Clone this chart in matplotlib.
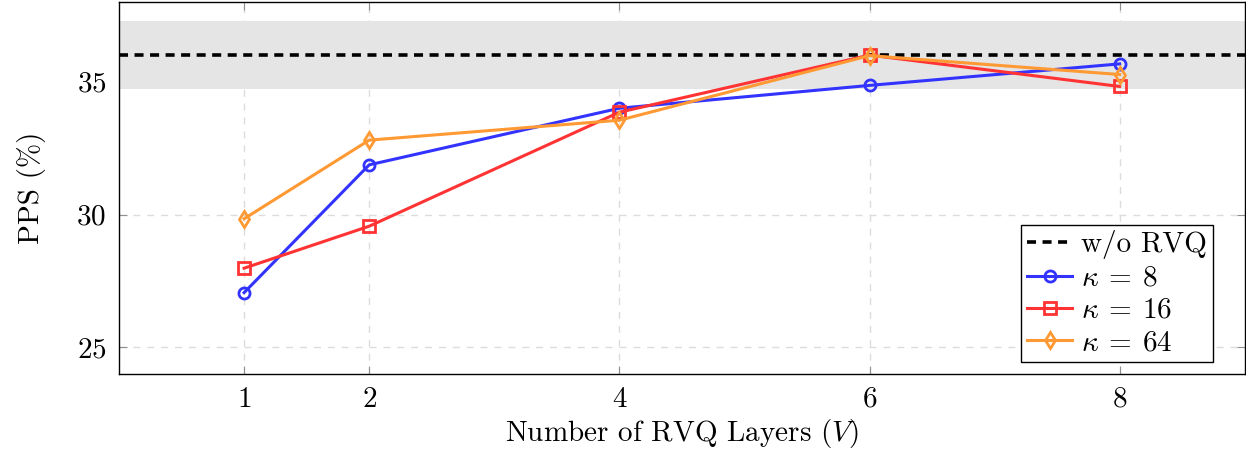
import matplotlib
matplotlib.use("Agg")
import matplotlib.pyplot as plt
import numpy as np

plt.rcParams['font.family'] = ['cmr10', 'DejaVu Serif']
plt.rcParams['mathtext.fontset'] = 'cm'
plt.rcParams['axes.formatter.use_mathtext'] = True

# data
layers = [1, 2, 4, 6, 8]
pps_k8 = [27.06, 31.87, 34.00, 34.86, 35.67]
pps_k16 = [27.98, 29.56, 33.85, 36.00, 34.82]
pps_k64 = [29.84, 32.80, 33.55, 35.98, 35.27]
no_rvq = 36.0
no_rvq_spread = 1.27

xticks = [1, 2, 4, 6, 8]
yticks = [25, 30, 35]

fig = plt.figure(figsize=(12.46, 4.5), dpi=100)
ax = fig.add_axes([0.0955, 0.169, 0.9035, 0.8266])

ax.set_axisbelow(True)
ax.grid(True, linestyle=(0, (5, 5)), color='#dcdcdc', linewidth=1.0)

ax.axhspan(no_rvq - no_rvq_spread, no_rvq + no_rvq_spread, color='#e5e5e5', zorder=1, lw=0)
ax.axhline(no_rvq, color='black', linestyle=(0, (2.5, 1.8)), linewidth=2.6, zorder=2, label='w/o RVQ')

ax.plot(layers, pps_k8, color='#3333ff', marker='o', ms=8, mfc='none', mew=2, lw=2.2, zorder=3,
        label=r'$\kappa\:=\:8$')
ax.plot(layers, pps_k16, color='#ff3333', marker='s', ms=8, mfc='none', mew=2, lw=2.2, zorder=3,
        label=r'$\kappa\:=\:16$')
ax.plot(layers, pps_k64, color='#ff9933', marker='d', ms=8, mfc='none', mew=2, lw=2.2, zorder=3,
        label=r'$\kappa\:=\:64$')

ax.set_xlim(0, 9)
ax.set_ylim(24, 38)
ax.set_xticks(xticks)
ax.set_yticks(yticks)
ax.tick_params(direction='in', top=True, right=True, length=6, color='#909090',
               labelsize=21, pad=9)
for s in ax.spines.values():
    s.set_linewidth(1.0)

ax.set_xlabel(r'Number of RVQ Layers ($V$)', fontsize=21, labelpad=3)
ax.set_ylabel('PPS (%)', fontsize=21, labelpad=22)

leg = ax.legend(loc='lower right', bbox_to_anchor=(0.9716, 0.032), borderaxespad=0, fontsize=21,
                frameon=True, fancybox=False, edgecolor='black', framealpha=1, handlelength=1.55,
                borderpad=0.2, labelspacing=0.2, handletextpad=0.3)
leg.get_frame().set_linewidth(1.0)

fig.savefig('out.png', dpi=100)
